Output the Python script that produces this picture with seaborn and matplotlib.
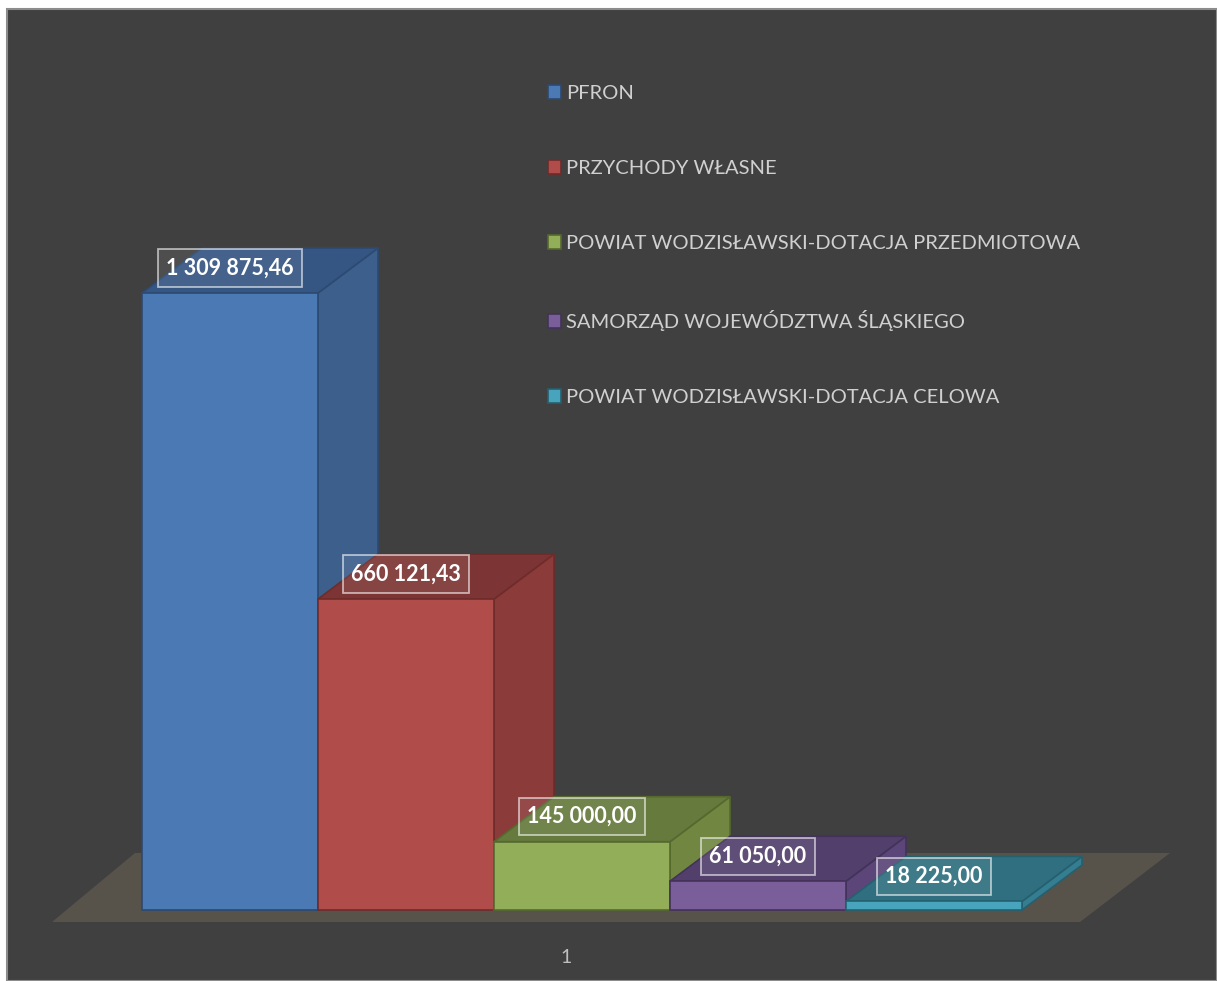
import numpy as np
import pandas as pd
import matplotlib
matplotlib.use("Agg")
import matplotlib.pyplot as plt
import matplotlib.transforms as mtransforms
from matplotlib.patches import Polygon, Rectangle
import seaborn as sns

# data
sources = ["PFRON", "PRZYCHODY WŁASNE", "POWIAT WODZISŁAWSKI-DOTACJA PRZEDMIOTOWA",
           "SAMORZĄD WOJEWÓDZTWA ŚLĄSKIEGO", "POWIAT WODZISŁAWSKI-DOTACJA CELOWA"]
amounts = [1309875.46, 660121.43, 145000.00, 61050.00, 18225.00]
group = ["1"] * len(sources)

front_colors = ["#4a79b3", "#b04c4a", "#93ae58", "#7a5e99", "#48a4bd"]
side_colors = ["#3c5f8c", "#8a3b3a", "#718741", "#5c4679", "#357d90"]
top_colors = ["#355582", "#7c3534", "#657a3c", "#523f6c", "#2f6f80"]
edge_colors = ["#2c4a72", "#6e2c2b", "#55692f", "#43325a", "#25606f"]

df = pd.DataFrame({"grp": group, "source": sources, "amount": amounts})

sns.set_style("white")
plt.rcParams['font.family'] = ['Lato', 'DejaVu Sans']

W, H = 1217, 981
fig = plt.figure(figsize=(W / 100, H / 100), dpi=100)
fig.patch.set_facecolor("white")
# chart panel
fig.patches.append(Rectangle((7 / W, 0), 1 - 7 / W, 1 - 9 / H, transform=fig.transFigure,
                             facecolor="#404040", edgecolor="#8c8c8c", lw=1.5, zorder=-5))

axis_bottom_px = 40
ax = fig.add_axes([0, axis_bottom_px / H, 1, 1 - axis_bottom_px / H])
ax.set_zorder(1)
ax.patch.set_alpha(0)

# scales (pixels)
px_per_x = 1100.0
x0_px = 582.0
base_px = 31.0  # base above axis bottom
px_per_y = 617.0 / max(amounts)
ax_h_px = H - axis_bottom_px

sns.barplot(data=df, x="grp", y="amount", hue="source", palette=front_colors,
            saturation=1, width=0.8, dodge=True, ax=ax, linewidth=1.2, zorder=3)
ax.set_xlim(-x0_px / px_per_x, (W - x0_px) / px_per_x)
ax.set_ylim(-base_px / px_per_y, (ax_h_px - base_px) / px_per_y)

bars = [c.patches[0] for c in ax.containers]

ddx = 60 / px_per_x
ddy = 45 / px_per_y

# floor
fy0 = -12 / px_per_y
fy1 = 57 / px_per_y
floor = Polygon([((52 - x0_px) / px_per_x, fy0), ((1080 - x0_px) / px_per_x, fy0),
                 ((1170 - x0_px) / px_per_x, fy1), ((135 - x0_px) / px_per_x, fy1)],
                closed=True, facecolor="#57534b", edgecolor="none", zorder=1)
ax.add_patch(floor)

for i, bar in enumerate(bars):
    x = bar.get_x()
    w = bar.get_width()
    h = bar.get_height()
    z = 3 + i
    bar.set_edgecolor(edge_colors[i])
    bar.set_zorder(z + 0.2)
    side = Polygon([(x + w, 0), (x + w + ddx, ddy), (x + w + ddx, h + ddy), (x + w, h)],
                   closed=True, facecolor=side_colors[i], edgecolor=edge_colors[i], lw=1.2, zorder=z)
    top = Polygon([(x, h), (x + w, h), (x + w + ddx, h + ddy), (x + ddx, h + ddy)],
                  closed=True, facecolor=top_colors[i], edgecolor=edge_colors[i], lw=1.2, zorder=z + 0.1)
    ax.add_patch(side)
    ax.add_patch(top)
    label = f"{amounts[i]:,.2f}".replace(",", " ").replace(".", ",")
    ax.text(x + w / 2, h + 25 / px_per_y, label, ha="center", va="center", color="white",
            fontsize=15.5, fontweight="bold", zorder=20,
            bbox=dict(boxstyle="square,pad=0.38", facecolor=(1, 1, 1, 0.08),
                      edgecolor=(1, 1, 1, 0.6), linewidth=1.3))

# axis styling
for s in ax.spines.values():
    s.set_visible(False)
ax.set_yticks([])
ax.set_xlabel("")
ax.set_ylabel("")
ax.tick_params(axis="x", length=0, pad=6, labelsize=14, labelcolor="#bfbfbf")
offset = mtransforms.ScaledTranslation(-16 / 100, 0, fig.dpi_scale_trans)
for lab in ax.get_xticklabels():
    lab.set_transform(lab.get_transform() + offset)

sns.move_legend(ax, loc="upper left", bbox_to_anchor=(530 / W, 1 - 67 / ax_h_px),
                frameon=False, title=None, fontsize=14.5, labelspacing=2.88,
                handlelength=0.65, handleheight=0.65, handletextpad=0.25, labelcolor="#d0d0d0")
leg = ax.get_legend()
for i, hnd in enumerate(leg.legend_handles):
    hnd.set_edgecolor(edge_colors[i])
    hnd.set_linewidth(1.2)

fig.savefig("out.png", dpi=100, facecolor="white")
